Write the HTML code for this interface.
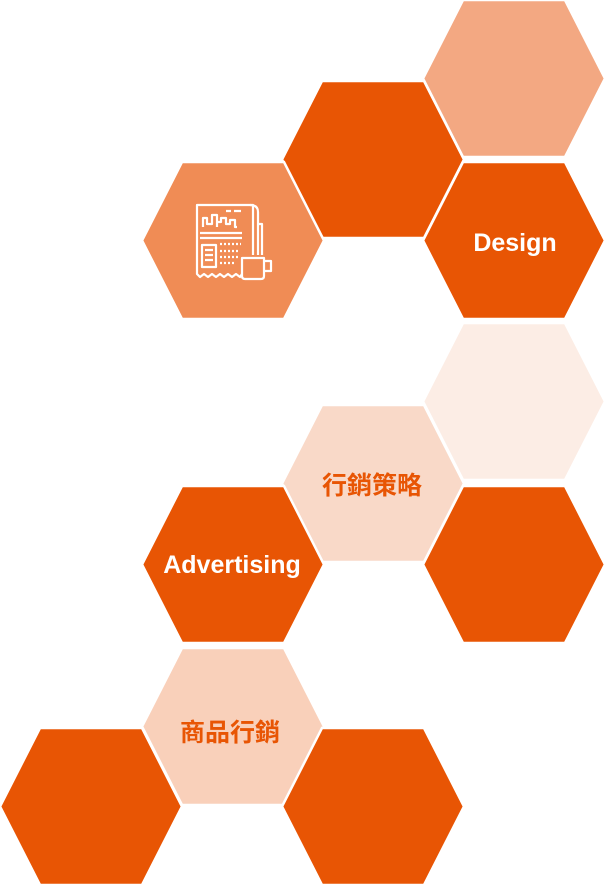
<!DOCTYPE html>
<html><head><meta charset="utf-8"><style>
html,body{margin:0;padding:0;background:#fff;}
svg{display:block}
text{font-family:"Liberation Sans","Noto Sans CJK TC",sans-serif;font-weight:bold;fill:#fff;}
</style></head><body>
<svg width="605" height="885" viewBox="0 0 605 885" xmlns="http://www.w3.org/2000/svg">
<defs><polygon id="h" points="0,78.5 40,0 142,0 182,78.5 142,157 40,157" stroke="#fff" stroke-width="2.5" stroke-linejoin="miter"/></defs>
<use href="#h" x="423" y="0" fill="#f3a882"/>
<use href="#h" x="282" y="81" fill="#e85504"/>
<use href="#h" x="142" y="162" fill="#f08c55"/>
<use href="#h" x="423" y="162" fill="#e85504"/>
<use href="#h" x="423" y="323" fill="#fcede5"/>
<use href="#h" x="282" y="405" fill="#f9d9c8"/>
<use href="#h" x="142" y="486" fill="#e85504"/>
<use href="#h" x="423" y="486" fill="#e85504"/>
<use href="#h" x="142" y="648" fill="#f9d0ba"/>
<use href="#h" x="0" y="728" fill="#e85504"/>
<use href="#h" x="282" y="728" fill="#e85504"/>
<text x="515" y="251" font-size="25" text-anchor="middle">Design</text>
<text x="372" y="494" font-size="25" text-anchor="middle" style="fill:#e85504">行銷策略</text>
<text x="232" y="573" font-size="25" text-anchor="middle">Advertising</text>
<text x="230" y="741" font-size="25" text-anchor="middle" style="fill:#e85504">商品行銷</text>
<g fill="none" stroke="#fff" stroke-width="2.2" stroke-linejoin="round">
<path d="M242,274 L240,277 L236,274 L232,277 L228,274 L224,277 L220,274 L216,277 L212,274 L208,277 L204,274 L200,277 L197,274 L197,205 L253,205 L253,255"/>
<path d="M250,205 Q258,205 258,212 L258,255"/>
<path d="M258,224 L262,224 L262,255"/>
<path d="M203,227 L203,218 L207,218 L207,224 L212,224 L212,215 L217,215 L217,227 M217,222 L221,222 L221,218 L226,218 L226,224 L230,224 L230,220 L235,220 L235,227 L237,227"/>
<path d="M226,211 L231,211 M234,211 L241,211"/>
<path d="M200,233 L242,233 M200,238 L242,238"/>
<rect x="202" y="245" width="14" height="22"/>
<path d="M205,250 L213,250 M205,255 L213,255 M205,260 L213,260"/>
<path d="M220,244 L241,244 M220,251 L238,251 M220,257 L238,257 M220,263 L236,263" stroke-dasharray="2,2"/>
<path d="M242,258 L264,258 L264,276 Q264,279 261,279 L245,279 Q242,279 242,276 Z"/>
<path d="M264,261 L271,261 L271,271 L264,271"/>
</g>
</svg>
</body></html>
